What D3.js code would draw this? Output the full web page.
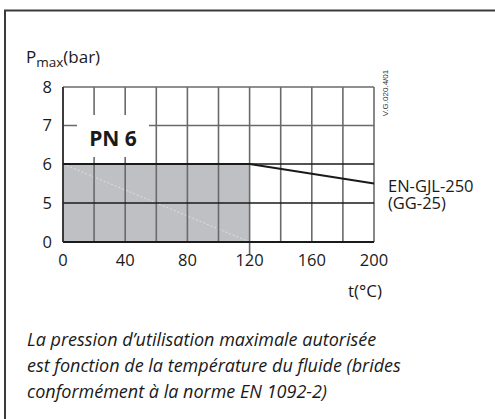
<!DOCTYPE html>
<html>
<head>
<meta charset="utf-8">
<script src="https://cdn.jsdelivr.net/npm/d3@7"></script>
<style>
  body { margin: 0; background: #fff; }
  svg { display: block; font-family: "Open Sans", "Noto Sans", sans-serif; }
</style>
</head>
<body>
<script>
// chart values
var xTicks = [0, 40, 80, 120, 160, 200]
var xGrid = [0, 20, 40, 60, 80, 100, 120, 140, 160, 180, 200]
var yTicks = [0, 5, 6, 7, 8]
var areaTemp = [0, 120]       // allowed area (PN 6)
var areaPress = 6
var lineTemp = [0, 120, 200]
var linePress = [6, 6, 5.5]
var seriesLabel = ["EN-GJL-250", "(GG-25)"]
var caption = [
  "La pression d\u2019utilisation maximale autoris\u00e9e",
  "est fonction de la temp\u00e9rature du fluide (brides",
  "conform\u00e9ment \u00e0 la norme EN 1092-2)"
]

var svg = d3.select("body").append("svg")
  .attr("width", 495)
  .attr("height", 419)

// frame (top + left only)
svg.append("path")
  .attr("d", "M5,419 V10.5 H495")
  .attr("fill", "none")
  .attr("stroke", "#3a3a3a")
  .attr("stroke-width", 2)

var x = d3.scaleLinear().domain([0, 200]).range([63, 374])
// y axis is not linear: 0,5,6,7,8 evenly spaced
var y = d3.scaleLinear().domain([0, 5, 6, 7, 8]).range([242, 203, 164, 125.5, 87])

// gray allowed area
svg.append("rect")
  .attr("x", x(areaTemp[0]))
  .attr("y", y(areaPress))
  .attr("width", x(areaTemp[1]) - x(areaTemp[0]))
  .attr("height", y(0) - y(areaPress))
  .attr("fill", "#bfc0c4")

// faint diagonal artefact in the fill
svg.append("line")
  .attr("x1", x(0)).attr("y1", y(6))
  .attr("x2", x(120)).attr("y2", y(0))
  .attr("stroke", "#e4e4e6")
  .attr("stroke-width", 0.8)
  .attr("stroke-dasharray", "2,2")

// vertical grid
svg.selectAll("line.vgrid")
  .data(xGrid)
  .enter()
  .append("line")
  .classed("vgrid", true)
  .attr("x1", function(d){ return x(d) })
  .attr("x2", function(d){ return x(d) })
  .attr("y1", y(8))
  .attr("y2", function(d){ return d == 120 ? y(0) + 12 : y(0) })
  .attr("stroke", "#6a6a6a")
  .attr("stroke-width", 1.6)

// horizontal grid
svg.selectAll("line.hgrid")
  .data(yTicks)
  .enter()
  .append("line")
  .classed("hgrid", true)
  .attr("x1", x(0))
  .attr("x2", x(200))
  .attr("y1", function(d){ return y(d) })
  .attr("y2", function(d){ return y(d) })
  .attr("stroke", function(d){ return d == 7 || d == 8 ? "#6a6a6a" : "#1a1a1a" })
  .attr("stroke-width", function(d){ return d == 0 ? 1.8 : 1.4 })

// left axis line
svg.append("line")
  .attr("x1", x(0)).attr("x2", x(0))
  .attr("y1", y(8)).attr("y2", y(0))
  .attr("stroke", "#2a2a2a")
  .attr("stroke-width", 1.6)

// PN 6 label with white box
svg.append("rect")
  .attr("x", 77).attr("y", 115)
  .attr("width", 72).attr("height", 42)
  .attr("fill", "#fff")

svg.append("text")
  .attr("x", 113)
  .attr("y", 146)
  .attr("text-anchor", "middle")
  .attr("font-size", 21)
  .attr("font-weight", "bold")
  .attr("fill", "#1a1a1a")
  .text("PN 6")

// max pressure line
svg.append("path")
  .datum(d3.zip(lineTemp, linePress))
  .attr("d", d3.line()
    .x(function(d){ return x(d[0]) })
    .y(function(d){ return y(d[1]) }))
  .attr("fill", "none")
  .attr("stroke", "#1a1a1a")
  .attr("stroke-width", 2.2)

// y tick labels
svg.selectAll("text.ylab")
  .data(yTicks)
  .enter()
  .append("text")
  .classed("ylab", true)
  .attr("x", 52)
  .attr("y", function(d){ return y(d) + 5.5 })
  .attr("text-anchor", "end")
  .attr("font-size", 16.5)
  .attr("fill", "#1a1a1a")
  .text(function(d){ return d })

// x tick labels
svg.selectAll("text.xlab")
  .data(xTicks)
  .enter()
  .append("text")
  .classed("xlab", true)
  .attr("x", function(d){ return x(d) })
  .attr("y", 266)
  .attr("text-anchor", "middle")
  .attr("font-size", 16.5)
  .attr("fill", "#1a1a1a")
  .text(function(d){ return d })

// axis titles
var yt = svg.append("text")
  .attr("x", 26)
  .attr("y", 63)
  .attr("font-size", 17)
  .attr("fill", "#1a1a1a")
yt.append("tspan").text("P")
yt.append("tspan").attr("font-size", 13.5).attr("dy", 4).text("max")
yt.append("tspan").attr("dy", -4).text("(bar)")

svg.append("text")
  .attr("x", 365)
  .attr("y", 297)
  .attr("text-anchor", "middle")
  .attr("font-size", 17)
  .attr("fill", "#1a1a1a")
  .text("t(\u00b0C)")

// series label (two lines in one text element)
var sl = svg.append("text")
  .attr("x", 388)
  .attr("y", 192)
  .attr("font-size", 16.5)
  .attr("fill", "#1a1a1a")
sl.selectAll("tspan")
  .data(seriesLabel)
  .enter()
  .append("tspan")
  .attr("x", 388)
  .attr("dy", function(d, i){ return i == 0 ? 0 : 17 })
  .text(function(d){ return d })

// drawing reference
svg.append("text")
  .attr("transform", "translate(388,93) rotate(-90)")
  .attr("text-anchor", "middle")
  .attr("font-size", 8)
  .attr("font-family", "Liberation Sans, Arial, sans-serif")
  .attr("fill", "#333")
  .text("V.G.020.4/01")

// caption
svg.selectAll("text.cap")
  .data(caption)
  .enter()
  .append("text")
  .classed("cap", true)
  .attr("x", 27)
  .attr("y", function(d, i){ return 346 + i * 26 })
  .attr("font-size", 18)
  .attr("font-style", "italic")
  .attr("fill", "#1a1a1a")
  .text(function(d){ return d })
</script>
</body>
</html>
